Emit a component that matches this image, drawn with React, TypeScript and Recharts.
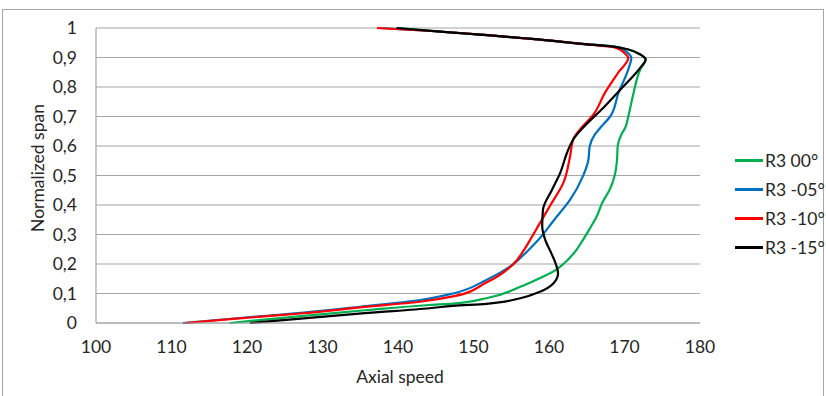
import React from 'react';
import { LineChart, Line, XAxis, YAxis, CartesianGrid } from 'recharts';

// values: [axial speed, normalized span]
const r3_00: [number, number][] = [
  [117.7, 0], [127.5, 0.024], [136, 0.044], [144.2, 0.061], [147.3, 0.066], [151.7, 0.084],
  [156.2, 0.123], [158.6, 0.15], [160.6, 0.175], [161.9, 0.2], [163.4, 0.24], [164.5, 0.282],
  [165.4, 0.32], [166.3, 0.36], [167.1, 0.41], [168, 0.45], [168.7, 0.5], [169, 0.55],
  [169.1, 0.6], [169.6, 0.64], [170.1, 0.662], [170.5, 0.7], [171.2, 0.78], [172.1, 0.86],
  [172.8, 0.893], [172.1, 0.91], [170.5, 0.927], [168.5, 0.937], [164, 0.947], [161.5, 0.954],
  [152.6, 0.974], [146, 0.987], [140, 1],
];
const r3_05: [number, number][] = [
  [111.5, 0], [119, 0.017], [127.5, 0.035], [135, 0.055], [142.9, 0.078], [147.3, 0.1],
  [151.7, 0.146], [155.3, 0.2], [157, 0.24], [158.6, 0.282], [160.7, 0.35], [162.8, 0.418],
  [164.5, 0.498], [165.2, 0.55], [165.4, 0.6], [166.1, 0.64], [166.8, 0.662], [168.1, 0.7],
  [169.2, 0.78], [170.5, 0.86], [170.9, 0.898], [170.3, 0.918], [169, 0.935], [164, 0.947],
  [161.5, 0.954], [152.6, 0.974], [145, 0.989], [137.5, 1],
];
const r3_10: [number, number][] = [
  [111.8, 0], [119, 0.016], [127.5, 0.033], [135, 0.053], [142.9, 0.072], [147.3, 0.09],
  [151.7, 0.137], [155.3, 0.2], [156.5, 0.24], [157.5, 0.282], [158.6, 0.33], [160.1, 0.396],
  [161.9, 0.475], [162.8, 0.566], [163.2, 0.622], [164.3, 0.662], [165.9, 0.707], [167.4, 0.78],
  [169.2, 0.85], [170.5, 0.898], [170, 0.915], [168.7, 0.934], [164, 0.947], [161.5, 0.954],
  [152.6, 0.974], [145, 0.989], [137.2, 1],
];
const r3_15: [number, number][] = [
  [120.4, 0], [127.5, 0.016], [136, 0.034], [144.2, 0.05], [147.3, 0.058], [151.7, 0.065],
  [156.2, 0.084], [158.8, 0.106], [160.6, 0.135], [161.2, 0.169], [160.9, 0.2], [160.3, 0.237],
  [159.5, 0.282], [159.1, 0.33], [159.2, 0.384], [160.4, 0.452], [161.5, 0.51], [162.4, 0.578],
  [163.2, 0.622], [164.5, 0.662], [167.2, 0.73], [169.4, 0.79], [172.1, 0.866], [172.8, 0.893],
  [172.1, 0.91], [170.5, 0.927], [168.5, 0.937], [164, 0.947], [161.5, 0.954], [152.6, 0.974],
  [146, 0.987], [139.8, 1],
];

const xTicks = [100, 110, 120, 130, 140, 150, 160, 170, 180];
const yTicks = [0, 0.1, 0.2, 0.3, 0.4, 0.5, 0.6, 0.7, 0.8, 0.9, 1];

const series = [
  { name: 'R3 00°', color: '#00B050', points: r3_00 },
  { name: 'R3 -05°', color: '#0070C0', points: r3_05 },
  { name: 'R3 -10°', color: '#FF0000', points: r3_10 },
  { name: 'R3 -15°', color: '#000000', points: r3_15 },
];

const FONT = 'Lato, "Open Sans", sans-serif';
const tickStyle = { fill: '#262626', fontSize: 17.5, fontFamily: FONT };

const fmtSpan = (v: number) => (v === 0 || v === 1 ? String(v) : v.toFixed(1).replace('.', ','));

export default function App() {
  return (
    <div style={{ position: 'absolute', left: 0, top: 0, width: 826, height: 396, background: '#fff', overflow: 'hidden' }}>
      <div style={{ position: 'absolute', left: 2, top: 9, width: 820, height: 400, border: '1px solid #A6A6A6' }} />
      <div style={{ position: 'absolute', left: 0, top: 0 }}>
        <LineChart width={826} height={396} layout="vertical" margin={{ top: 28, right: 126, bottom: 33, left: 46 }}>
          <CartesianGrid horizontal vertical={false} stroke="#A6A6A6" strokeWidth={1.2} />
          <XAxis
            type="number"
            domain={[100, 180]}
            ticks={xTicks}
            interval={0}
            height={40}
            tickLine={false}
            tickSize={0}
            tickMargin={18}
            tick={tickStyle}
            axisLine={{ stroke: '#A6A6A6', strokeWidth: 1.2 }}
            allowDataOverflow
          />
          <YAxis
            type="number"
            dataKey="span"
            domain={[0, 1]}
            ticks={yTicks}
            interval={0}
            width={50}
            reversed
            tickLine={false}
            tickSize={0}
            tickMargin={19}
            tick={tickStyle}
            tickFormatter={fmtSpan}
            axisLine={{ stroke: '#A6A6A6', strokeWidth: 1.2 }}
          />
          {series.map((s) => (
            <Line
              key={s.name}
              name={s.name}
              data={s.points.map(([speed, span]) => ({ speed, span }))}
              dataKey="speed"
              type="monotone"
              stroke={s.color}
              strokeWidth={2.2}
              dot={false}
              activeDot={false}
              isAnimationActive={false}
            />
          ))}
        </LineChart>
      </div>
      <div style={{ position: 'absolute', left: 350, top: 366, width: 100, textAlign: 'center', fontFamily: FONT, fontSize: 17.5, color: '#262626' }}>
        Axial speed
      </div>
      <div
        style={{
          position: 'absolute', left: 37, top: 168, transform: 'translate(-50%, -50%) rotate(-90deg)',
          whiteSpace: 'nowrap', fontFamily: FONT, fontSize: 17.5, color: '#262626',
        }}
      >
        Normalized span
      </div>
      <div style={{ position: 'absolute', left: 735, top: 146, fontFamily: FONT, fontSize: 17.5, color: '#262626' }}>
        {series.map((s) => (
          <div key={s.name} style={{ display: 'flex', alignItems: 'center', height: 29 }}>
            <span style={{ display: 'inline-block', width: 28, height: 2.5, background: s.color, marginRight: 2 }} />
            <span>{s.name}</span>
          </div>
        ))}
      </div>
    </div>
  );
}
